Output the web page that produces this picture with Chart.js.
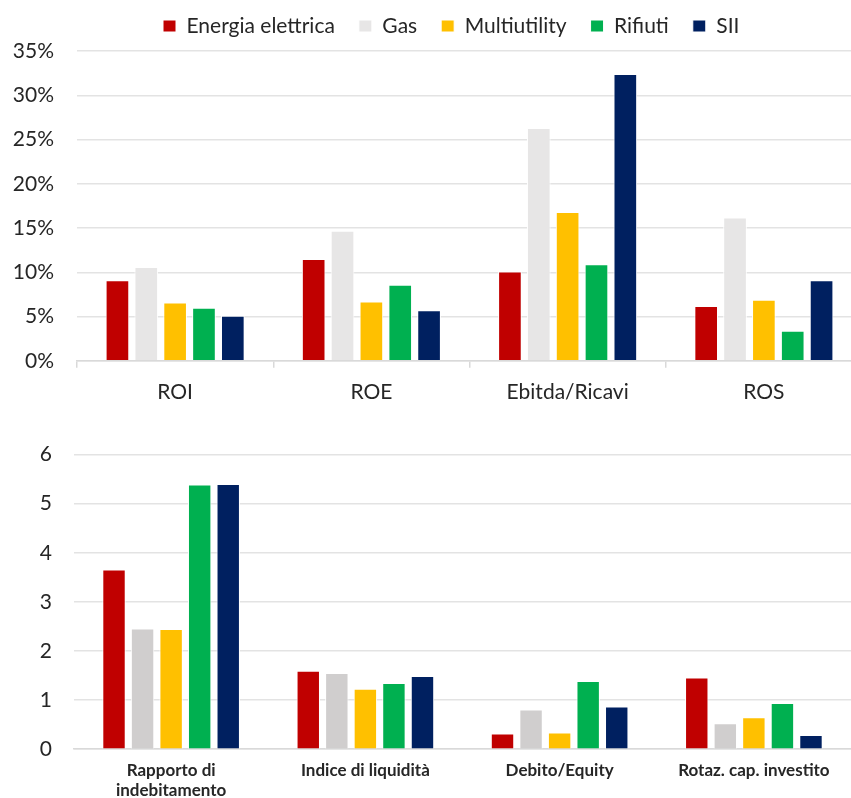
<!DOCTYPE html>
<html>
<head>
<meta charset="utf-8">
<script src="https://cdn.jsdelivr.net/npm/chart.js@4.4.1/dist/chart.umd.min.js"></script>
<style>
  html, body { margin: 0; padding: 0; background: #fff; overflow: hidden; width: 851px; height: 798px; }
  .panel { position: absolute; left: 0; }
</style>
</head>
<body>
<div class="panel" style="top:0"><canvas id="redditivita" width="862" height="417"></canvas></div>
<div class="panel" style="top:420px"><canvas id="solidita" width="851" height="392"></canvas></div>
<script>
// Sectors compared in both panels
const sectors = ['Energia elettrica', 'Gas', 'Multiutility', 'Rifiuti', 'SII'];

// Profitability indicators (percent)
const profitCategories = ['ROI', 'ROE', 'Ebitda/Ricavi', 'ROS'];
const profitEnergia = [9.1, 11.5, 10.1, 6.2];
const profitGas = [10.6, 14.7, 26.3, 16.2];
const profitMulti = [6.6, 6.7, 16.8, 6.9];
const profitRifiuti = [6.0, 8.6, 10.9, 3.4];
const profitSII = [5.1, 5.7, 32.4, 9.1];
const profitTicks = [0, 5, 10, 15, 20, 25, 30, 35];

// Financial structure indicators (ratios)
const financeCategories = [['Rapporto di', 'indebitamento'], 'Indice di liquidità', 'Debito/Equity', 'Rotaz. cap. investito'];
const financeEnergia = [3.66, 1.60, 0.32, 1.46];
const financeGas = [2.46, 1.55, 0.81, 0.53];
const financeMulti = [2.45, 1.23, 0.34, 0.65];
const financeRifiuti = [5.39, 1.35, 1.39, 0.94];
const financeSII = [5.40, 1.49, 0.87, 0.29];
const financeTicks = [0, 1, 2, 3, 4, 5, 6];

const FONT = 'Lato, "Open Sans", sans-serif';
const TEXT = '#262626';
const GRID = '#E3E3E3';
const AXIS = '#D9D9D9';

function datasets(values, colors) {
  return values.map((data, i) => ({
    label: sectors[i],
    data,
    backgroundColor: colors[i],
    borderColor: '#ffffff',
    borderWidth: 1,
    categoryPercentage: 0.735,
    barPercentage: 0.82
  }));
}

// Gives the legend row a fixed height and position above the first panel
const legendPlacement = {
  id: 'legendPlacement',
  beforeLayout(chart, args, opts) {
    const lg = chart.legend;
    if (lg && !lg.$fixedHeight) {
      const fit = lg.fit;
      lg.fit = function () {
        fit.call(this);
        this.height = opts.height;
      };
      lg.$fixedHeight = true;
    }
  },
  afterLayout(chart, args, opts) {
    const lg = chart.legend;
    if (lg) {
      lg.left = opts.left;
      lg.top = opts.top;
    }
  }
};

new Chart(document.getElementById('redditivita'), {
  type: 'bar',
  data: {
    labels: profitCategories,
    datasets: datasets(
      [profitEnergia, profitGas, profitMulti, profitRifiuti, profitSII],
      ['#C00000', '#E7E6E6', '#FFC000', '#00B050', '#002060']
    )
  },
  plugins: [legendPlacement],
  options: {
    responsive: false,
    animation: false,
    layout: { padding: 0 },
    plugins: {
      legendPlacement: { left: 139, top: -8.5, height: 51 },
      tooltip: { enabled: false },
      legend: {
        position: 'top',
        align: 'start',
        labels: {
          boxWidth: 13,
          boxHeight: 12,
          padding: 24,
          color: TEXT,
          font: { family: FONT, size: 21 }
        }
      }
    },
    scales: {
      x: {
        grid: { display: true, drawOnChartArea: false, drawTicks: true, tickLength: 7, color: AXIS, lineWidth: 1.5 },
        border: { display: true, color: AXIS, width: 1.5 },
        ticks: { color: TEXT, font: { family: FONT, size: 21 }, padding: 12 }
      },
      y: {
        min: 0,
        max: 35,
        afterFit(scale) { scale.width = 77; },
        afterBuildTicks(scale) { scale.ticks = profitTicks.map(v => ({ value: v })); },
        grid: { color: GRID, lineWidth: 1.5, drawTicks: false },
        border: { display: false },
        ticks: {
          color: TEXT,
          font: { family: FONT, size: 21 },
          padding: 23,
          callback: v => v + '%'
        }
      }
    }
  }
});

new Chart(document.getElementById('solidita'), {
  type: 'bar',
  data: {
    labels: financeCategories,
    datasets: datasets(
      [financeEnergia, financeGas, financeMulti, financeRifiuti, financeSII],
      ['#C00000', '#D0CECE', '#FFC000', '#00B050', '#002060']
    )
  },
  options: {
    responsive: false,
    animation: false,
    layout: { padding: { top: 32, left: 0, right: 0, bottom: 0 } },
    plugins: {
      tooltip: { enabled: false },
      legend: { display: false }
    },
    scales: {
      x: {
        grid: { display: false, drawTicks: false },
        border: { display: true, color: AXIS, width: 1.5 },
        ticks: { color: TEXT, font: { family: FONT, size: 17, weight: 'bold' }, padding: 11 }
      },
      y: {
        min: 0,
        max: 6,
        afterFit(scale) { scale.width = 74; },
        afterBuildTicks(scale) { scale.ticks = financeTicks.map(v => ({ value: v })); },
        grid: { color: GRID, lineWidth: 1.5, drawTicks: false },
        border: { display: false },
        ticks: {
          color: TEXT,
          font: { family: FONT, size: 21 },
          padding: 22
        }
      }
    }
  }
});
</script>
</body>
</html>
